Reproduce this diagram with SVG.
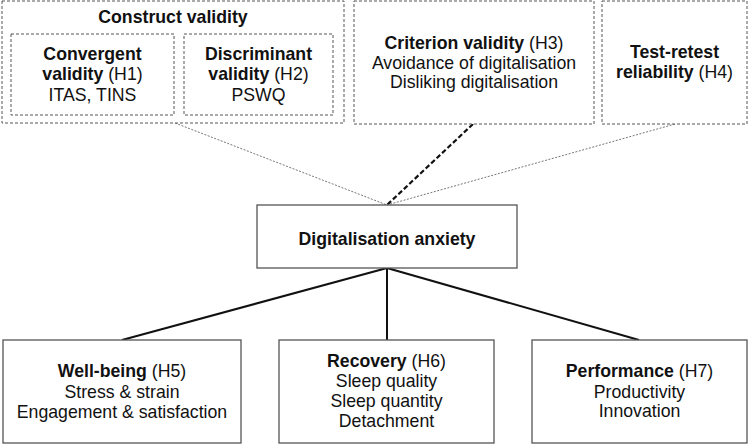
<svg xmlns="http://www.w3.org/2000/svg" width="749" height="445" viewBox="0 0 749 445">
<style>
  text { font-family: "Liberation Sans", Arial, sans-serif; font-size: 17.7px; fill: #111; text-anchor: middle; }
  .b { font-weight: bold; }
  .dash { fill: #fff; stroke: #555; stroke-width: 1; stroke-dasharray: 3 2; }
  .solid { fill: #fff; stroke: #555; stroke-width: 1.3; }
  .thin { stroke: #777; stroke-width: 1; stroke-dasharray: 2 1.5; fill: none; }
  .thick { stroke: #111; stroke-width: 2.2; stroke-dasharray: 5 2.5; fill: none; }
  .link { stroke: #111; stroke-width: 2; fill: none; }
</style>
<rect width="749" height="445" fill="#fff"/>
<g id="connectors">
  <line class="thin" x1="175" y1="123" x2="387" y2="205"/>
  <line class="thick" x1="473" y1="124" x2="387" y2="205"/>
  <line class="thin" x1="675" y1="124" x2="387" y2="205"/>
  <line class="link" x1="387" y1="268" x2="122" y2="340"/>
  <line class="link" x1="387" y1="268" x2="387" y2="340"/>
  <line class="link" x1="387" y1="268" x2="639" y2="340"/>
</g>
<g id="construct-validity">
  <rect class="dash" x="2" y="1" width="342" height="122"/>
  <text class="b" x="173" y="23">Construct validity</text>
</g>
<g id="convergent-validity">
  <rect class="dash" x="11" y="34" width="163" height="81"/>
  <text class="b" x="92.5" y="60">Convergent</text>
  <text x="92.5" y="80"><tspan class="b">validity</tspan> (H1)</text>
  <text x="92.5" y="101">ITAS, TINS</text>
</g>
<g id="discriminant-validity">
  <rect class="dash" x="184" y="34" width="149" height="81"/>
  <text class="b" x="258.5" y="60">Discriminant</text>
  <text x="258.5" y="80"><tspan class="b">validity</tspan> (H2)</text>
  <text x="258.5" y="101">PSWQ</text>
</g>
<g id="criterion-validity">
  <rect class="dash" x="354" y="1" width="240" height="123"/>
  <text x="474" y="49"><tspan class="b">Criterion validity</tspan> (H3)</text>
  <text x="474" y="69">Avoidance of digitalisation</text>
  <text x="474" y="88">Disliking digitalisation</text>
</g>
<g id="test-retest">
  <rect class="dash" x="602" y="1" width="145" height="123"/>
  <text class="b" x="674.5" y="58">Test-retest</text>
  <text x="674.5" y="78"><tspan class="b">reliability</tspan> (H4)</text>
</g>
<g id="digitalisation-anxiety">
  <rect class="solid" x="257" y="205" width="260" height="63"/>
  <text class="b" x="387" y="245">Digitalisation anxiety</text>
</g>
<g id="well-being">
  <rect class="solid" x="3" y="340" width="238" height="103"/>
  <text x="122" y="377"><tspan class="b">Well-being</tspan> (H5)</text>
  <text x="122" y="398">Stress &amp; strain</text>
  <text x="122" y="418">Engagement &amp; satisfaction</text>
</g>
<g id="recovery">
  <rect class="solid" x="279" y="340" width="215" height="103"/>
  <text x="386.5" y="367"><tspan class="b">Recovery</tspan> (H6)</text>
  <text x="386.5" y="387">Sleep quality</text>
  <text x="386.5" y="407">Sleep quantity</text>
  <text x="386.5" y="427">Detachment</text>
</g>
<g id="performance">
  <rect class="solid" x="532" y="340" width="215" height="103"/>
  <text x="639.5" y="377"><tspan class="b">Performance</tspan> (H7)</text>
  <text x="639.5" y="398">Productivity</text>
  <text x="639.5" y="417">Innovation</text>
</g>
</svg>
